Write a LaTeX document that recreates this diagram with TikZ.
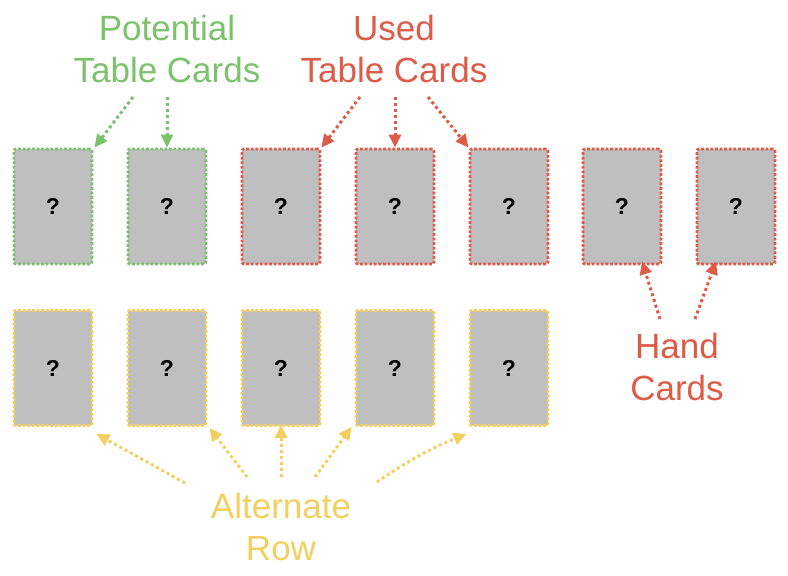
\documentclass[tikz,border=0pt]{standalone}
\usepackage{fontspec}
\setmainfont{Liberation Sans}
\usetikzlibrary{arrows.meta}
\definecolor{cgreen}{HTML}{7BC26C}
\definecolor{cred}{HTML}{DD5B47}
\definecolor{cyellow}{HTML}{F2CF5E}
\definecolor{cgray}{HTML}{BFBFBF}
\tikzset{
  card/.style={draw=#1, fill=cgray, line width=2.8pt, dash pattern=on 2.8pt off 1.8pt,
    rounded corners=2pt, minimum width=78pt, minimum height=115pt, inner sep=0pt,
    font=\fontsize{23}{26}\selectfont\bfseries, text=black},
  lbl/.style={text=#1, align=center, font=\fontsize{35}{42}\selectfont, inner sep=0pt},
  pointer/.style={draw=#1, line width=3pt, dash pattern=on 3pt off 3pt,
    -{Triangle[length=13pt,width=12pt,fill=#1]}}
}
\begin{document}
\begin{tikzpicture}[x=1pt,y=-1pt]
\useasboundingbox (0,0) rectangle (788,576);
% top row
\node[card=cgreen] (p1) at (53,206.5) {\raisebox{-1.5pt}{?}};
\node[card=cgreen] (p2) at (167,206.5) {\raisebox{-1.5pt}{?}};
\node[card=cred] (u1) at (281,206.5) {\raisebox{-1.5pt}{?}};
\node[card=cred] (u2) at (395,206.5) {\raisebox{-1.5pt}{?}};
\node[card=cred] (u3) at (509,206.5) {\raisebox{-1.5pt}{?}};
\node[card=cred] (h1) at (622,206.5) {\raisebox{-1.5pt}{?}};
\node[card=cred] (h2) at (736,206.5) {\raisebox{-1.5pt}{?}};
% bottom row
\node[card=cyellow] (a1) at (53,368) {\raisebox{-1.5pt}{?}};
\node[card=cyellow] (a2) at (167,368) {\raisebox{-1.5pt}{?}};
\node[card=cyellow] (a3) at (281,368) {\raisebox{-1.5pt}{?}};
\node[card=cyellow] (a4) at (395,368) {\raisebox{-1.5pt}{?}};
\node[card=cyellow] (a5) at (509,368) {\raisebox{-1.5pt}{?}};
% labels (base = baseline of the last line)
\node[lbl=cgreen, anchor=base] (lp) at (167,82) {Potential\\Table Cards};
\node[lbl=cred, anchor=base] (lu) at (394,82) {Used\\Table Cards};
\node[lbl=cred, anchor=base] (lh) at (677,400) {Hand\\Cards};
\node[lbl=cyellow, anchor=base] (la) at (281,560) {Alternate\\Row};
% arrow starts
\coordinate (sp1) at (133,97);
\coordinate (sp2) at (167,97);
\coordinate (su1) at (360,97);
\coordinate (su2) at (395,97);
\coordinate (su3) at (428,97);
\coordinate (sh1) at (660,319);
\coordinate (sh2) at (695,319);
\coordinate (sa1) at (185,483);
\coordinate (sa2) at (247,477);
\coordinate (sa3) at (281,477);
\coordinate (sa4) at (315,477);
\coordinate (sa5) at (377,482);
% arrows
\draw[pointer=cgreen] (sp1) -- ([shift={(1,0)}]p1.north east);
\draw[pointer=cgreen] (sp2) -- (p2.north);
\draw[pointer=cred] (su1) -- (u1.north east);
\draw[pointer=cred] (su2) -- (u2.north);
\draw[pointer=cred] (su3) -- (u3.north west);
\draw[pointer=cred] (sh1) -- ([shift={(20,-4)}]h1.south);
\draw[pointer=cred] (sh2) -- ([shift={(-20,-4)}]h2.south);
\draw[pointer=cyellow] (sa1) -- ([shift={(3,7)}]a1.south east);
\draw[pointer=cyellow] (sa2) -- ([shift={(2,1)}]a2.south east);
\draw[pointer=cyellow] (sa3) -- ([shift={(0,-2)}]a3.south);
\draw[pointer=cyellow] (sa4) -- ([shift={(-3,0)}]a4.south west);
\draw[pointer=cyellow] (sa5) to[bend left=6] ([shift={(-2,7)}]a5.south west);
\end{tikzpicture}
\end{document}
